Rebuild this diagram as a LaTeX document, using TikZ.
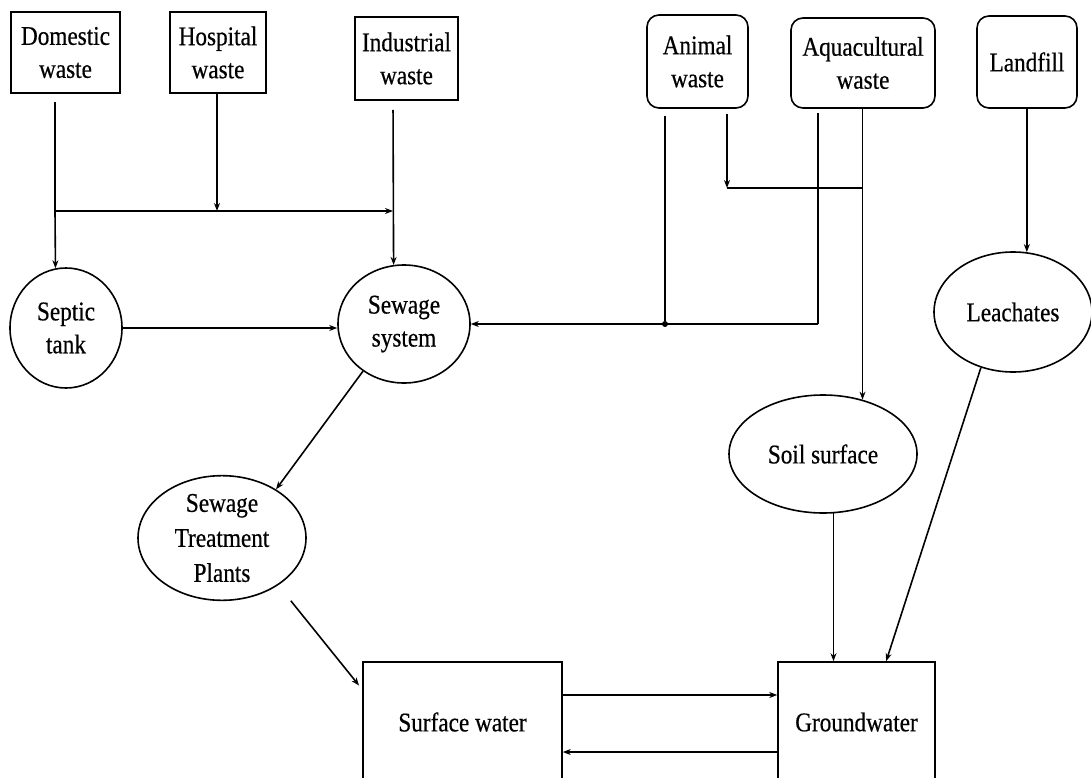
\documentclass[tikz,border=0pt]{standalone}
\usepackage{fontspec}
\setmainfont{Liberation Serif}[FakeStretch=0.86,FakeBold=0.5]
\usetikzlibrary{shapes.geometric,arrows.meta}
\begin{document}
\begin{tikzpicture}[x=1pt,y=-1pt,
  every node/.style={font=\fontsize{27}{33}\selectfont, align=center, inner sep=0pt},
  sqbox/.style={draw, line width=1.6pt, rectangle},
  rbox/.style={draw, line width=1.6pt, rectangle, rounded corners=12pt},
  oval/.style={draw, line width=1.6pt, ellipse},
  conn/.style={line width=1.6pt},
  arr/.style={line width=1.6pt, -{Stealth[length=8pt,width=6pt]}},
  jdot/.style={circle, fill=black, minimum size=6pt, inner sep=0pt}
]
\fill[white] (0,0) rectangle (1091,778);
\clip (0,0) rectangle (1091,778);

% sources
\node[sqbox, minimum width=109pt, minimum height=81pt] (dom) at (65.5,52.5) {Domestic\\waste};
\node[sqbox, minimum width=96pt, minimum height=81pt] (hosp) at (218,52.5) {Hospital\\waste};
\node[sqbox, minimum width=103pt, minimum height=83pt] (ind) at (406.5,58.5) {Industrial\\waste};
\node[rbox, minimum width=101pt, minimum height=93pt] (anim) at (697.5,61.5) {Animal\\waste};
\node[rbox, minimum width=144pt, minimum height=90pt] (aqua) at (863,63) {Aquacultural\\waste};
\node[rbox, minimum width=100pt, minimum height=92pt] (land) at (1027,62) {Landfill};

% intermediates
\node[oval, minimum width=112pt, minimum height=120pt] (sep) at (66,328) {Septic\\tank};
\node[oval, minimum width=132pt, minimum height=118pt] (sew) at (404,324) {Sewage\\system};
\node[oval, minimum width=168pt, minimum height=120pt, font=\fontsize{27}{35}\selectfont] (stp) at (222,538) {Sewage\\Treatment\\Plants};
\node[oval, minimum width=188pt, minimum height=118pt] (soil) at (823,454) {Soil surface};
\node[oval, minimum width=158pt, minimum height=120pt] (leach) at (1013,312) {Leachates};

% sinks
\node[sqbox, minimum width=199pt, minimum height=120pt] (sw) at (462.5,722) {Surface water};
\node[sqbox, minimum width=157pt, minimum height=120pt] (gw) at (856.5,722) {Groundwater};

% junction coordinates
\coordinate (j1) at (55,211);
\coordinate (j2) at (393,211);
\coordinate (j3) at (818,324);
\coordinate (j5) at (727,188);
\coordinate (ya) at (0,695);
\coordinate (yb) at (0,752);
\node[jdot] (j4) at (665,324) {};

% domestic / hospital / industrial
\draw[conn, shorten <=8pt] (dom.south -| j1) -- (j1);
\draw[arr] (j1) -- (sep.100);
\draw[arr] (j1) -- (j2);
\draw[arr] (hosp.south -| 217,0) -- (217,211);
\draw[arr, shorten <=9pt] (ind.south -| j2) -- (sew.100);

% septic -> sewage
\draw[arr] (sep.east) -- (sep.east -| sew.west);

% animal / aquacultural -> sewage
\draw[conn, shorten <=4pt] (aqua.south -| j3) -- (j3);
\draw[arr] (j3) -- (sew.east);
\draw[conn, shorten <=7pt] (anim.south -| j4) -- (j4);

% animal -> junction, aquacultural -> soil
\draw[arr, shorten <=5pt] (anim.south -| j5) -- (j5);
\draw[conn] (j5) -- (j5 -| soil.54);
\draw[arr] (aqua.south -| soil.54) -- (soil.54);

% landfill -> leachates
\draw[arr] (land.south -| leach.77) -- (leach.77);

% sewage -> treatment -> surface water
\draw[arr] (sew.229) -- (stp.42);
\draw[arr, shorten <=20pt, shorten >=5pt] (stp.-40) -- (sw.162);

% soil, leachates -> groundwater
\draw[arr] (soil.-80) -- (gw.north -| soil.-80);
\draw[arr] (leach.240) -- (gw.64.6);

% surface <-> groundwater
\draw[arr] (sw.east |- ya) -- (gw.west |- ya);
\draw[arr] (gw.west |- yb) -- (sw.east |- yb);
\end{tikzpicture}
\end{document}
